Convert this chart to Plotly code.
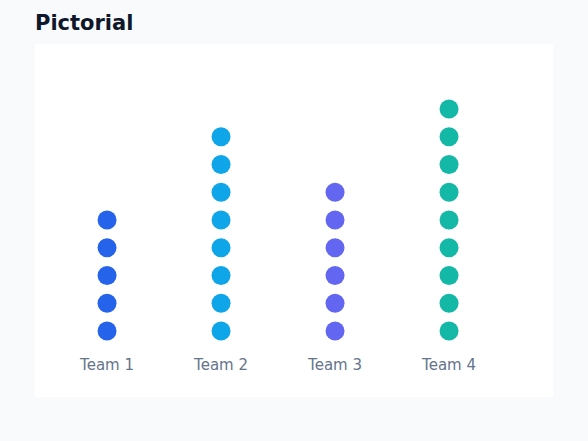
import plotly.graph_objects as go

teams = ["Team 1", "Team 2", "Team 3", "Team 4"]
counts = [5, 8, 6, 9]
colors = ["#2563eb", "#0ea5e9", "#6366f1", "#14b8a6"]

fig = go.Figure()
for i, (t, n, c) in enumerate(zip(teams, counts, colors)):
    fig.add_trace(go.Scatter(
        x=[i] * n, y=list(range(n)), mode="markers",
        marker=dict(size=19, color=c, line=dict(width=0)),
        name=t, hoverinfo="skip", showlegend=False,
    ))

fig.add_trace(go.Scatter(
    x=list(range(len(teams))), y=[-1.26] * len(teams), mode="text",
    text=teams, textposition="middle center",
    textfont=dict(family="DejaVu Sans", size=15, color="#64748b"),
    hoverinfo="skip", showlegend=False,
))

fig.update_layout(
    width=588, height=441,
    margin=dict(l=35, r=35, t=44, b=44),
    paper_bgcolor="#f8fafc", plot_bgcolor="#ffffff",
    title=dict(text="<b>Pictorial</b>", x=35/588, xanchor="left", y=1 - 22.5/441, yanchor="middle",
               font=dict(family="DejaVu Sans", size=21, color="#0f172a")),
    xaxis=dict(range=[-0.632, 3.912], visible=False, fixedrange=True),
    yaxis=dict(range=[-2.378, 10.342], visible=False, fixedrange=True),
)

fig.write_html("out.html", config={"displayModeBar": False},
               post_script="document.body.style.margin='0';document.body.style.background='#f8fafc';")
